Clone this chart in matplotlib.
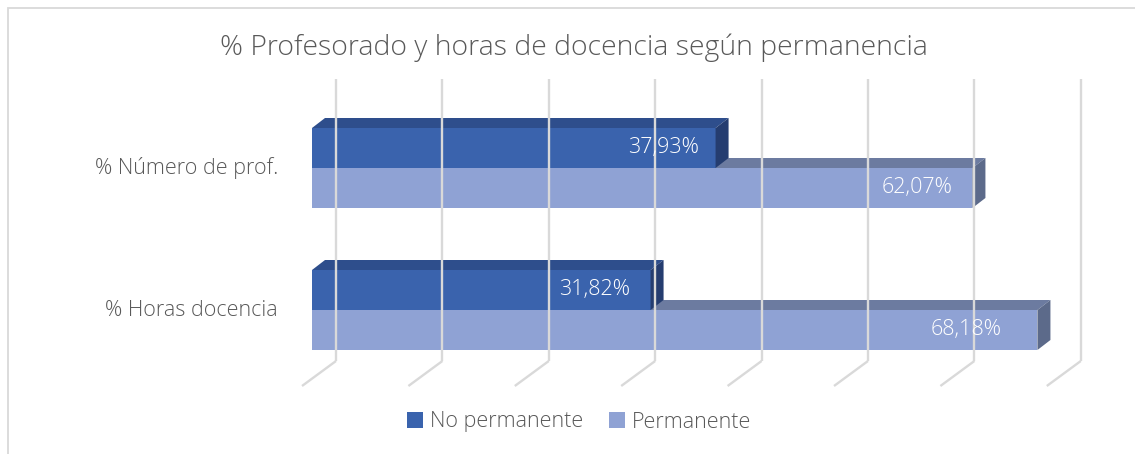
import matplotlib.pyplot as plt
from matplotlib.patches import Polygon, Rectangle

categories = ['% Horas docencia', '% Número de prof.']
no_perm = [31.82, 37.93]
perm = [68.18, 62.07]
series = ['No permanente', 'Permanente']
xticks = [0, 10, 20, 30, 40, 50, 60, 70]
title = '% Profesorado y horas de docencia según permanencia'

W, H = 1135, 454
PXU = 10.64   # px per value unit
PXC = 142.0   # px per category
X0, Y0 = 312, 310   # pixel of value 0 / category 0

plt.rcParams['font.family'] = ['Open Sans', 'DejaVu Sans']
fig = plt.figure(figsize=(W / 100, H / 100), dpi=100)
ax = fig.add_axes([0, 0, 1, 1])
ax.set_xlim(-X0 / PXU, (W - X0) / PXU)
ax.set_ylim((Y0 - H) / PXC, Y0 / PXC)
ax.axis('off')

# chart frame
fig.patches.append(Rectangle((8 / W, -0.1), 1.2, 1 - 8 / H + 0.1, transform=fig.transFigure,
                             fill=False, ec='#D9D9D9', lw=1.3))

# back wall gridlines + floor lines
grid_c = '#D9D9D9'
wall_dx = 24 / PXU
wall_top = (Y0 - 79) / PXC
wall_bot = (Y0 - 361) / PXC
floor_dx = -10 / PXU
floor_y = (Y0 - 386) / PXC
for t in xticks:
    ax.plot([t + wall_dx, t + wall_dx], [wall_bot, wall_top], color=grid_c, lw=1.7, solid_capstyle='butt')
    ax.plot([t + floor_dx, t + wall_dx], [floor_y, wall_bot], color=grid_c, lw=1.7, solid_capstyle='butt')

bh = 40 / PXC
ddx = 13 / PXU
ddy = 10 / PXC
dark = ('#3A63AD', '#2E4E8C', '#253D70')
light = ('#8FA2D4', '#6C7BA0', '#5C6A8A')

def bar3d(val, yc, cols):
    y_lo, y_hi = yc - bh / 2, yc + bh / 2
    ax.barh(yc, val, height=bh, left=0, color=cols[0], lw=0)
    ax.add_patch(Polygon([(0, y_hi), (val, y_hi), (val + ddx, y_hi + ddy), (ddx, y_hi + ddy)],
                         closed=True, fc=cols[1], lw=0))
    ax.add_patch(Polygon([(val, y_lo), (val + ddx, y_lo + ddy), (val + ddx, y_hi + ddy), (val, y_hi)],
                         closed=True, fc=cols[2], lw=0))

# label inset from bar end, px (as Excel placed them)
pad_dark = [21, 17]
pad_light = [36, 20]

fs = 15.5
for i, cat in enumerate(categories):
    yc = i
    bar3d(perm[i], yc - bh / 2, light)
    bar3d(no_perm[i], yc + bh / 2, dark)
    ax.text(no_perm[i] - pad_dark[i] / PXU, yc + bh / 2, f'{no_perm[i]:.2f}%'.replace('.', ','),
            ha='right', va='center', color='white', fontsize=fs, fontweight='light')
    ax.text(perm[i] - pad_light[i] / PXU, yc - bh / 2, f'{perm[i]:.2f}%'.replace('.', ','),
            ha='right', va='center', color='white', fontsize=fs, fontweight='light')
    ax.text(-34 / PXU, yc, cat, ha='right', va='center', color='#595959', fontsize=fs, fontweight='light')

fig.text(574 / W, 1 - 48 / H, title, ha='center', va='center', color='#595959', fontsize=20.4, fontweight='light')

handles = [Rectangle((0, 0), 1, 1, fc=dark[0]), Rectangle((0, 0), 1, 1, fc=light[0])]
fig.legend(handles, series, loc='center', bbox_to_anchor=(579 / W, 1 - 422 / H), ncol=2, frameon=False,
           handlelength=0.75, handleheight=0.75, handletextpad=0.3, columnspacing=1.2,
           prop={'size': fs, 'weight': 'light'}, labelcolor='#595959')

fig.savefig('out.png', dpi=100)
